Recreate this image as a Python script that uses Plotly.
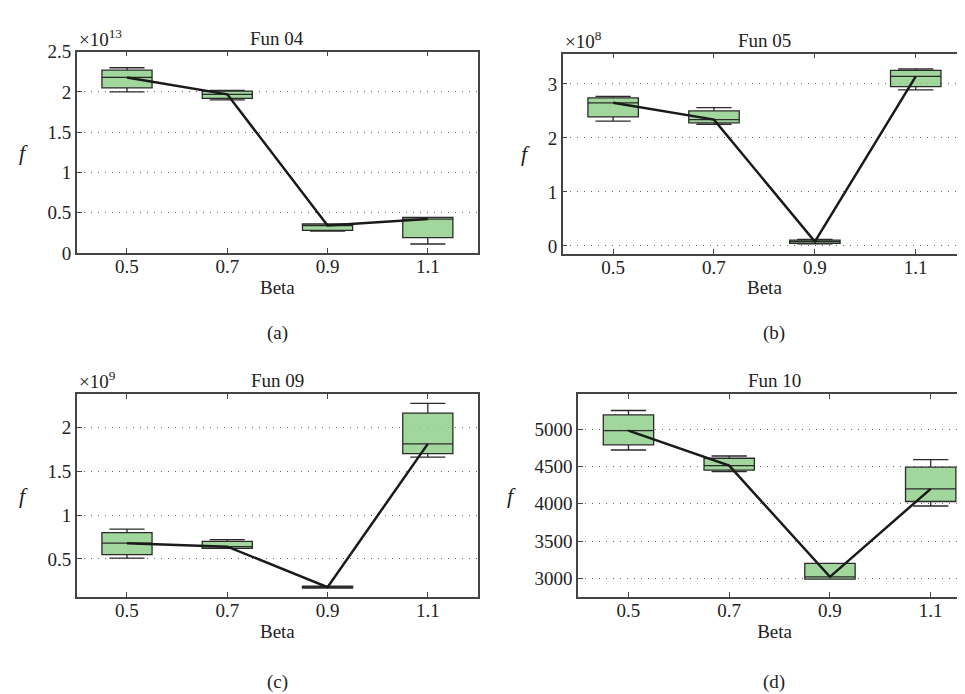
import plotly.graph_objects as go

betas = [0.5, 0.7, 0.9, 1.1]
beta_labels = ["0.5", "0.7", "0.9", "1.1"]

# Fun 04 (x1e13)
a_low = [2.00, 1.90, 0.27, 0.11]
a_q1 = [2.05, 1.92, 0.28, 0.19]
a_med = [2.18, 1.97, 0.34, 0.42]
a_q3 = [2.27, 2.01, 0.36, 0.44]
a_up = [2.30, 2.02, 0.36, 0.44]
# Fun 05 (x1e8)
b_low = [2.31, 2.25, 0.04, 2.89]
b_q1 = [2.39, 2.28, 0.05, 2.95]
b_med = [2.65, 2.34, 0.08, 3.14]
b_q3 = [2.74, 2.50, 0.11, 3.25]
b_up = [2.77, 2.56, 0.12, 3.28]
# Fun 09 (x1e9)
c_low = [0.51, 0.62, 0.17, 1.66]
c_q1 = [0.55, 0.62, 0.17, 1.70]
c_med = [0.68, 0.64, 0.18, 1.81]
c_q3 = [0.80, 0.70, 0.19, 2.16]
c_up = [0.84, 0.72, 0.19, 2.27]
# Fun 10
d_low = [4720, 4430, 2990, 3970]
d_q1 = [4790, 4450, 2990, 4030]
d_med = [4980, 4510, 3020, 4200]
d_q3 = [5190, 4610, 3200, 4490]
d_up = [5250, 4640, 3200, 4590]

panels = [
    dict(name="Fun 04", exp="13", cap="(a)", low=a_low, q1=a_q1, med=a_med, q3=a_q3, up=a_up,
         yr=[0, 2.5], yt=[0, 0.5, 1, 1.5, 2, 2.5], ytt=["0", "0.5", "1", "1.5", "2", "2.5"],
         xd=[0.0715, 0.488], yd=[0.651, 0.950], xr=[0.4, 1.2], capy=0.532, capx=0.28, fx=0.016),
    dict(name="Fun 05", exp="8", cap="(b)", low=b_low, q1=b_q1, med=b_med, q3=b_q3, up=b_up,
         yr=[-0.14, 3.56], yt=[0, 1, 2, 3], ytt=["0", "1", "2", "3"],
         xd=[0.576, 0.995], yd=[0.650, 0.947], xr=[0.4, 1.2], capy=0.532, capx=0.795, fx=0.537),
    dict(name="Fun 09", exp="9", cap="(c)", low=c_low, q1=c_q1, med=c_med, q3=c_q3, up=c_up,
         yr=[0.07, 2.375], yt=[0.5, 1, 1.5, 2], ytt=["0.5", "1", "1.5", "2"],
         xd=[0.0715, 0.488], yd=[0.140, 0.441], xr=[0.4, 1.2], capy=0.013, capx=0.28, fx=0.016),
    dict(name="Fun 10", exp=None, cap="(d)", low=d_low, q1=d_q1, med=d_med, q3=d_q3, up=d_up,
         yr=[2753, 5468], yt=[3000, 3500, 4000, 4500, 5000], ytt=["3000", "3500", "4000", "4500", "5000"],
         xd=[0.592, 1.0], yd=[0.140, 0.441], xr=[0.4, 1.18], capy=0.013, capx=0.795, fx=0.523),
]

FONT = "Liberation Serif"
TXT = "#222"
fig = go.Figure()
ann = []
for i, p in enumerate(panels):
    n = "" if i == 0 else str(i + 1)
    xa, ya = "x" + n, "y" + n
    fig.add_trace(go.Scatter(x=betas, y=p["med"], mode="lines", line=dict(color="#1a1a1a", width=2.5),
                             xaxis=xa, yaxis=ya, showlegend=False, hoverinfo="skip"))
    fig.add_trace(go.Box(x=betas, q1=p["q1"], median=p["med"], q3=p["q3"], lowerfence=p["low"],
                         upperfence=p["up"], width=0.1, whiskerwidth=0.7,
                         fillcolor="rgba(140,205,135,0.82)", line=dict(color="#2a2a2a", width=1.3),
                         xaxis=xa, yaxis=ya, showlegend=False, boxpoints=False))
    common = dict(showline=True, linecolor="#444", linewidth=1.5, ticks="inside", ticklen=5,
                  tickcolor="#444", tickfont=dict(family=FONT, size=19, color=TXT))
    fig.layout["xaxis" + n] = dict(domain=p["xd"], range=p["xr"], tickvals=betas, ticktext=beta_labels,
                                   anchor=ya, mirror="ticks", showgrid=False, zeroline=False,
                                   ticklabelstandoff=-4,
                                   title=dict(text="Beta", font=dict(family=FONT, size=19, color=TXT), standoff=4),
                                   **common)
    fig.layout["yaxis" + n] = dict(domain=p["yd"], range=p["yr"], tickvals=p["yt"], ticktext=p["ytt"],
                                   anchor=xa, mirror=True, showgrid=True, gridcolor="#666",
                                   griddash="1px,6px", gridwidth=1.2, zeroline=False, **common)
    xc = (p["xd"][0] + p["xd"][1]) / 2
    ann.append(dict(text="<i>f</i>", x=p["fx"], y=(p["yd"][0] + p["yd"][1]) / 2, xref="paper", yref="paper",
                    xanchor="center", yanchor="middle", showarrow=False,
                    font=dict(family=FONT, size=22, color=TXT)))
    ann.append(dict(text=p["name"], x=xc, y=p["yd"][1], xref="paper", yref="paper", xanchor="center",
                    yanchor="bottom", yshift=1, showarrow=False, font=dict(family=FONT, size=19, color=TXT)))
    if p["exp"]:
        ann.append(dict(text="×10<sup>" + p["exp"] + "</sup>", x=p["xd"][0], y=p["yd"][1], xref="paper",
                        yref="paper", xanchor="left", yanchor="bottom", showarrow=False,
                        font=dict(family=FONT, size=19, color=TXT)))
    ann.append(dict(text=p["cap"], x=p["capx"], y=p["capy"], xref="paper", yref="paper", xanchor="center",
                    yanchor="middle", showarrow=False, font=dict(family=FONT, size=19, color=TXT)))

fig.update_layout(width=965, height=694, margin=dict(l=0, r=0, t=0, b=0), plot_bgcolor="white",
                  paper_bgcolor="white", annotations=ann)
fig.write_html("out.html")
